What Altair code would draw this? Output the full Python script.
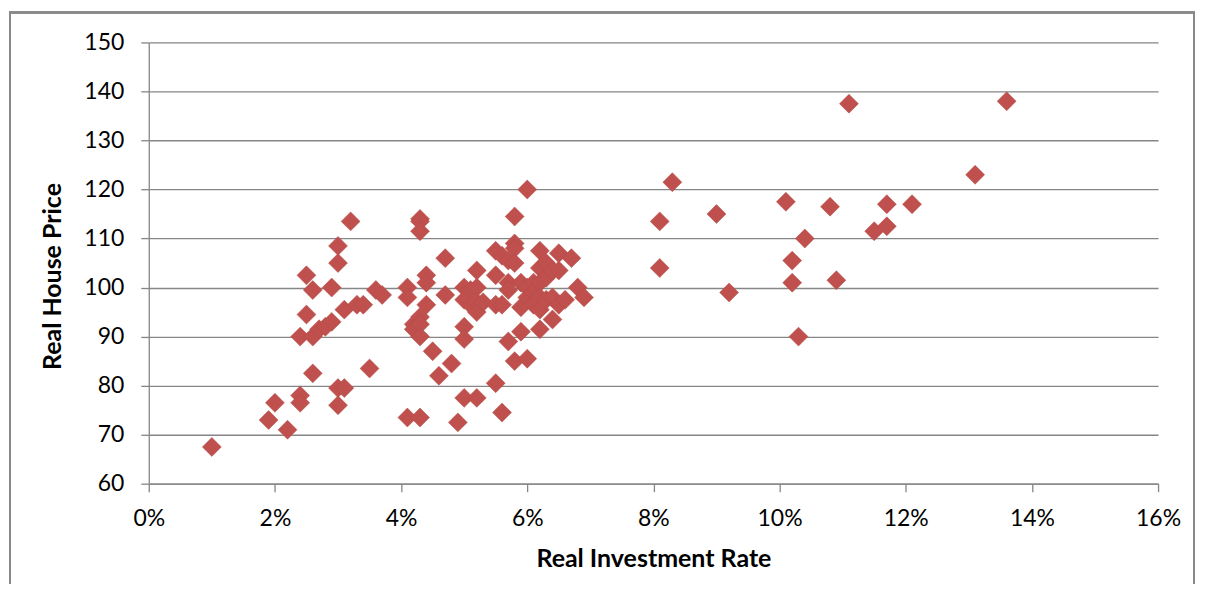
import altair as alt
import pandas as pd

# Real investment rate (%) and real house price
investment_rate = [
    1.0, 1.9, 2.0, 2.2, 2.4, 2.4, 2.4, 2.5, 2.5, 2.6, 2.6, 2.6, 2.7, 2.8, 2.9, 2.9,
    3.0, 3.0, 3.0, 3.0, 3.1, 3.1, 3.2, 3.3, 3.4, 3.5, 3.6, 3.7,
    4.1, 4.1, 4.1, 4.2, 4.2, 4.3, 4.3, 4.3, 4.3, 4.3, 4.3, 4.3,
    4.4, 4.4, 4.4, 4.5, 4.6, 4.7, 4.7, 4.8, 4.9,
    5.0, 5.0, 5.0, 5.0, 5.0, 5.1, 5.1, 5.2, 5.2, 5.2, 5.2, 5.2, 5.3,
    5.5, 5.5, 5.5, 5.5, 5.6, 5.6, 5.6, 5.7, 5.7, 5.7, 5.7,
    5.8, 5.8, 5.8, 5.8, 5.8, 5.9, 5.9, 5.9, 6.0, 6.0, 6.0, 6.0,
    6.1, 6.1, 6.1, 6.2, 6.2, 6.2, 6.2, 6.2, 6.2, 6.3, 6.3, 6.3,
    6.4, 6.4, 6.4, 6.5, 6.5, 6.5, 6.6, 6.7, 6.8, 6.9,
    8.1, 8.1, 8.3, 9.0, 9.2, 10.1, 10.2, 10.2, 10.3, 10.4, 10.8, 10.9,
    11.1, 11.5, 11.7, 11.7, 12.1, 13.1, 13.6,
]
house_price = [
    67.5, 73.0, 76.5, 71.0, 78.0, 76.5, 90.0, 102.5, 94.5, 99.5, 90.0, 82.5, 91.5, 92.0, 100.0, 93.0,
    108.5, 105.0, 79.5, 76.0, 95.5, 79.5, 113.5, 96.5, 96.5, 83.5, 99.5, 98.5,
    100.0, 98.0, 73.5, 92.5, 91.5, 114.0, 113.5, 111.5, 94.0, 92.5, 90.0, 73.5,
    102.5, 101.0, 96.5, 87.0, 82.0, 106.0, 98.5, 84.5, 72.5,
    100.0, 97.5, 92.0, 89.5, 77.5, 99.5, 96.5, 103.5, 100.0, 97.0, 95.0, 77.5, 97.0,
    107.5, 102.5, 96.5, 80.5, 106.5, 96.5, 74.5, 105.5, 101.0, 99.5, 89.0,
    114.5, 109.0, 108.0, 105.0, 85.0, 101.0, 96.0, 91.0, 120.0, 100.0, 98.0, 85.5,
    101.0, 99.0, 96.5, 107.5, 104.0, 101.0, 98.0, 91.5, 95.5, 105.0, 102.0, 97.5,
    103.5, 98.0, 93.5, 107.0, 103.5, 96.5, 97.5, 106.0, 100.0, 98.0,
    113.5, 104.0, 121.5, 115.0, 99.0, 117.5, 105.5, 101.0, 90.0, 110.0, 116.5, 101.5,
    137.5, 111.5, 117.0, 112.5, 117.0, 123.0, 138.0,
]

x_ticks = [0, 0.02, 0.04, 0.06, 0.08, 0.10, 0.12, 0.14, 0.16]
y_ticks = [60, 70, 80, 90, 100, 110, 120, 130, 140, 150]

df = pd.DataFrame({
    "rate": [v / 100 for v in investment_rate],
    "price": house_price,
})

FONT = "Lato"
GRID = "#868686"

points = alt.Chart(df).mark_point(
    shape="diamond", filled=True, size=360, color="#C0504D", opacity=1,
    stroke="#B34A47", strokeWidth=0.5,
).encode(
    x=alt.X("rate:Q",
            scale=alt.Scale(domain=[0, 0.16], nice=False, zero=False),
            axis=alt.Axis(values=x_ticks, format=".0%", title="Real Investment Rate",
                          grid=False, tickSize=8, labelPadding=16, labelFlush=False,
                          titlePadding=16)),
    y=alt.Y("price:Q",
            scale=alt.Scale(domain=[60, 150], nice=False, zero=False),
            axis=alt.Axis(values=y_ticks, title="Real House Price",
                          grid=True, tickSize=8, labelPadding=17, labelFlush=False,
                          titlePadding=18, titleY=234)),
)

border = alt.Chart(df).mark_rect(
    fill=None, stroke="#8a8a8a", strokeWidth=1.5, clip=False
).encode(
    x=alt.value(-139), x2=alt.value(1047),
    y=alt.value(-30), y2=alt.value(600),
)

chart = alt.layer(border, points).properties(
    width=1011, height=442,
    autosize=alt.AutoSizeParams(type="none"),
    padding={"left": 141, "top": 34, "right": 40, "bottom": 100},
).configure_view(
    stroke=None
).configure_axis(
    labelFont=FONT, titleFont=FONT, labelFontSize=23, titleFontSize=25,
    titleFontWeight="bold", labelColor="#000000", titleColor="#000000",
    domainColor=GRID, tickColor=GRID, gridColor=GRID, domainWidth=1.3,
    gridWidth=1.3, tickWidth=1.3,
)

chart.save("out.html", embed_options={"renderer": "svg", "actions": False})
